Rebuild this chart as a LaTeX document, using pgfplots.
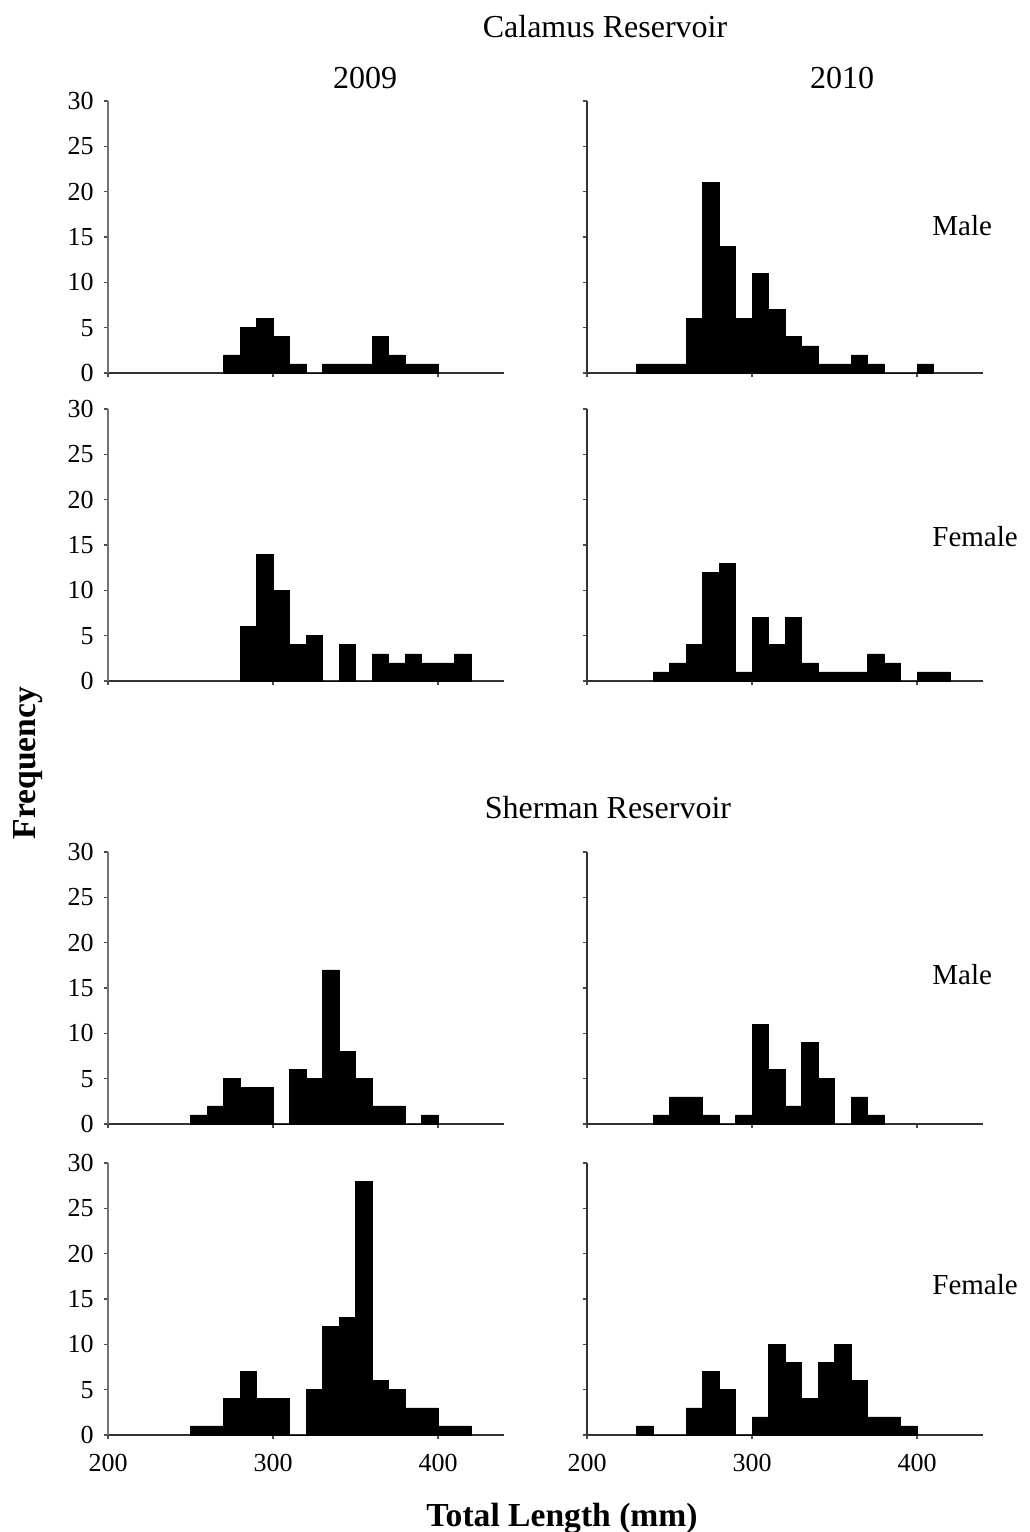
\documentclass[border=0pt]{standalone}
\usepackage{fontspec}
\setmainfont{Liberation Serif}
\usepackage{pgfplots}
\pgfplotsset{compat=1.18}
\pgfplotsset{
  panel/.style={
    scale only axis, width=198pt, height=136pt,
    xmin=200, xmax=440, ymin=0, ymax=30,
    axis lines=left, axis line style={-, line width=0.75pt},
    x axis line style={black!80}, y axis line style={black!55},
    xtick={200,300,400}, ytick={0,5,...,30},
    tick align=outside, major tick length=2.2pt,
    tick style={black!70, line width=0.6pt},
    /pgf/number format/assume math mode=true,
    ticklabel style={font=\fontsize{13}{15}\selectfont},
    xticklabel style={yshift=-4pt},
    yticklabel style={xshift=-1.5pt},
  },
  noxl/.style={xticklabels={}},
  noyl/.style={yticklabels={}, y axis line style={black!80}},
  bars/.style={ybar interval, fill=black, draw=black, line width=0.3pt},
}
\begin{document}
\begin{tikzpicture}
\path[use as bounding box] (0,0) rectangle (514.5pt,-766pt);
% Calamus 2009 Male
\begin{axis}[panel, noxl, at={(54pt,-50.5pt)}, anchor=north west]
\addplot[bars] coordinates {(270,2) (280,5) (290,6) (300,4) (310,1) (320,0) (330,1) (340,1) (350,1) (360,4) (370,2) (380,1) (390,1) (400,0)};
\end{axis}
% Calamus 2010 Male
\begin{axis}[panel, noxl, noyl, at={(293.5pt,-50.5pt)}, anchor=north west]
\addplot[bars] coordinates {(230,1) (240,1) (250,1) (260,6) (270,21) (280,14) (290,6) (300,11) (310,7) (320,4) (330,3) (340,1) (350,1) (360,2) (370,1) (380,0) (390,0) (400,1) (410,0)};
\end{axis}
% Calamus 2009 Female
\begin{axis}[panel, noxl, at={(54pt,-204.5pt)}, anchor=north west]
\addplot[bars] coordinates {(280,6) (290,14) (300,10) (310,4) (320,5) (330,0) (340,4) (350,0) (360,3) (370,2) (380,3) (390,2) (400,2) (410,3) (420,0)};
\end{axis}
% Calamus 2010 Female
\begin{axis}[panel, noxl, noyl, at={(293.5pt,-204.5pt)}, anchor=north west]
\addplot[bars] coordinates {(240,1) (250,2) (260,4) (270,12) (280,13) (290,1) (300,7) (310,4) (320,7) (330,2) (340,1) (350,1) (360,1) (370,3) (380,2) (390,0) (400,1) (410,1) (420,0)};
\end{axis}
% Sherman 2009 Male
\begin{axis}[panel, noxl, at={(54pt,-426pt)}, anchor=north west]
\addplot[bars] coordinates {(250,1) (260,2) (270,5) (280,4) (290,4) (300,0) (310,6) (320,5) (330,17) (340,8) (350,5) (360,2) (370,2) (380,0) (390,1) (400,0)};
\end{axis}
% Sherman 2010 Male
\begin{axis}[panel, noxl, noyl, at={(293.5pt,-426pt)}, anchor=north west]
\addplot[bars] coordinates {(240,1) (250,3) (260,3) (270,1) (280,0) (290,1) (300,11) (310,6) (320,2) (330,9) (340,5) (350,0) (360,3) (370,1) (380,0)};
\end{axis}
% Sherman 2009 Female
\begin{axis}[panel, at={(54pt,-581.5pt)}, anchor=north west]
\addplot[bars] coordinates {(250,1) (260,1) (270,4) (280,7) (290,4) (300,4) (310,0) (320,5) (330,12) (340,13) (350,28) (360,6) (370,5) (380,3) (390,3) (400,1) (410,1) (420,0)};
\end{axis}
% Sherman 2010 Female
\begin{axis}[panel, noyl, at={(293.5pt,-581.5pt)}, anchor=north west]
\addplot[bars] coordinates {(230,1) (240,0) (250,0) (260,3) (270,7) (280,5) (290,0) (300,2) (310,10) (320,8) (330,4) (340,8) (350,10) (360,6) (370,2) (380,2) (390,1) (400,0)};
\end{axis}
% texts
\node[font=\fontsize{16}{19}\selectfont] at (302.5pt,-13.5pt) {Calamus Reservoir};
\node[font=\fontsize{16}{19}\selectfont] at (182.5pt,-39pt) {2009};
\node[font=\fontsize{16}{19}\selectfont] at (421pt,-39pt) {2010};
\node[font=\fontsize{16}{19}\selectfont] at (304pt,-404pt) {Sherman Reservoir};
\node[font=\fontsize{14.5}{17}\selectfont, anchor=west, inner sep=0pt] at (466pt,-113pt) {Male};
\node[font=\fontsize{14.5}{17}\selectfont, anchor=west, inner sep=0pt] at (466pt,-268.5pt) {Female};
\node[font=\fontsize{14.5}{17}\selectfont, anchor=west, inner sep=0pt] at (466pt,-487.5pt) {Male};
\node[font=\fontsize{14.5}{17}\selectfont, anchor=west, inner sep=0pt] at (466pt,-642.5pt) {Female};
\node[font=\bfseries\fontsize{16.8}{20}\selectfont, rotate=90] at (14pt,-381.5pt) {Frequency};
\node[font=\bfseries\fontsize{16.8}{20}\selectfont, anchor=base, inner sep=0pt] at (281pt,-763pt) {Total Length (mm)};
\end{tikzpicture}
\end{document}
